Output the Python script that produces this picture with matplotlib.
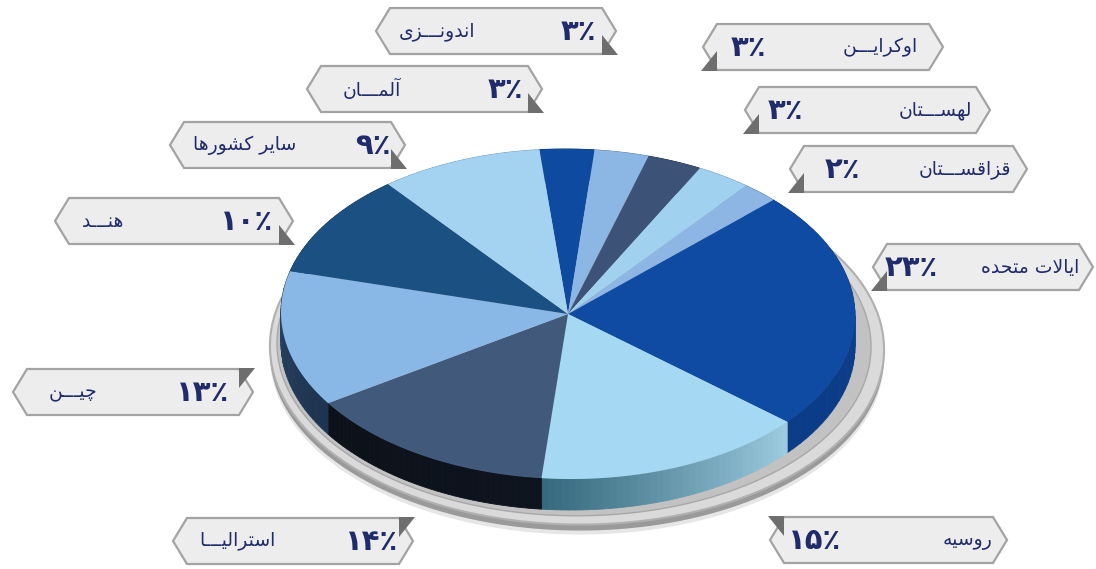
import numpy as np
import matplotlib
matplotlib.use("Agg")
import matplotlib.pyplot as plt
import matplotlib.transforms as mtransforms
from matplotlib.colors import to_rgb
from matplotlib.path import Path
from matplotlib.patches import Polygon, Circle

# clockwise from the top of the pie
countries = ['اندونـــزی', 'آلمـــان', 'اوکرایـــن', 'لهســـتان', 'قزاقســـتان',
             'ایالات متحده', 'روسیه', 'استرالیـــا', 'چیـــن', 'هنـــد', 'سایر کشورها']
shares = [3, 3, 3, 3, 2, 23, 15, 14, 13, 10, 9]

top_colors = ['#0e4aa0', '#8cb6e4', '#3d5277', '#a0d2f0', '#8db6e4', '#0f4ba3',
              '#a4d8f3', '#415a7c', '#8ab8e6', '#1b5083', '#a3d3f1']
# side wall colour at the start and at the end of each slice
side_colors = [('#0a3373',) * 2, ('#5f84ad',) * 2, ('#263650',) * 2, ('#6f9fbf',) * 2,
               ('#5f86b0',) * 2, ('#0b3c86', '#0d3f8c'), ('#36697d', '#9ccbe0'),
               ('#0c1119', '#0e141e'), ('#2b4767', '#1d3350'), ('#103455',) * 2,
               ('#6fa0bf',) * 2]

# label boxes: left, right, centre y, x of percent, x of name, folded corner
boxes = [(376, 616, 31, 578, 437, 'br'), (307, 542, 89, 505, 372, 'br'),
         (703, 943, 47, 748, 880, 'bl'), (745, 990, 110, 785, 935, 'bl'),
         (790, 1027, 169, 842, 965, 'bl'), (873, 1093, 267, 911, 1030, 'bl'),
         (770, 1007, 540, 815, 967, 'tl'), (173, 413, 541, 372, 237, 'tr'),
         (13, 253, 392, 203, 73, 'tr'), (55, 293, 221, 247, 103, 'br'),
         (170, 405, 145, 373, 245, 'br')]

NAVY = '#1f2b6b'
FA_DIGITS = str.maketrans('0123456789', '۰۱۲۳۴۵۶۷۸۹')

# --- minimal Persian shaping (matplotlib draws glyphs one by one, left to right)
FORMS = {
    'ا': (0xFE8D, 0xFE8E), 'آ': (0xFE81, 0xFE82), 'د': (0xFEA9, 0xFEAA),
    'ر': (0xFEAD, 0xFEAE), 'ز': (0xFEAF, 0xFEB0), 'و': (0xFEED, 0xFEEE),
    'ت': (0xFE95, 0xFE96, 0xFE97, 0xFE98), 'ح': (0xFEA1, 0xFEA2, 0xFEA3, 0xFEA4),
    'س': (0xFEB1, 0xFEB2, 0xFEB3, 0xFEB4), 'ش': (0xFEB5, 0xFEB6, 0xFEB7, 0xFEB8),
    'ق': (0xFED5, 0xFED6, 0xFED7, 0xFED8), 'ل': (0xFEDD, 0xFEDE, 0xFEDF, 0xFEE0),
    'م': (0xFEE1, 0xFEE2, 0xFEE3, 0xFEE4), 'ن': (0xFEE5, 0xFEE6, 0xFEE7, 0xFEE8),
    'ه': (0xFEE9, 0xFEEA, 0xFEEB, 0xFEEC), 'ک': (0xFB8E, 0xFB8F, 0xFB90, 0xFB91),
    'ی': (0xFBFC, 0xFBFD, 0xFBFE, 0xFBFF), 'چ': (0xFB7A, 0xFB7B, 0xFB7C, 0xFB7D),
}
LAM_ALEF = {'ا': (0xFEFB, 0xFEFC), 'آ': (0xFEF5, 0xFEF6)}
TATWEEL = 'ـ'


def joins_next(c):
    return c == TATWEEL or len(FORMS.get(c, ())) == 4


def joins_prev(c):
    return c == TATWEEL or c in FORMS


def rtl(text):
    out, i = [], 0
    while i < len(text):
        c = text[i]
        prev = text[i - 1] if i else ''
        nxt = text[i + 1] if i + 1 < len(text) else ''
        linked = joins_next(prev) and joins_prev(c)
        if c == 'ل' and nxt in LAM_ALEF:
            out.append(chr(LAM_ALEF[nxt][int(linked)]))
            i += 2
            continue
        if c in FORMS:
            ahead = joins_next(c) and joins_prev(nxt)
            idx = {(False, False): 0, (True, False): 1,
                   (False, True): 2, (True, True): 3}[(linked, ahead)]
            out.append(chr(FORMS[c][idx]))
        else:
            out.append(c)
        i += 1
    return ''.join(reversed(out))


# --- pie seen from above at an angle: unit disc -> ellipse in pixel space
CX, CY, RX, RY, TILT, BETA = 568, 314, 287, 165, np.radians(0.5), 0.0
DEPTH = 31


class Tilted(mtransforms.Transform):
    input_dims = output_dims = 2

    def __init__(self, drop=0, shift=0):
        super().__init__()
        self.drop = drop
        self.shift = shift

    def transform_non_affine(self, values):
        v = np.asarray(values, float)
        single = v.ndim == 1
        v = v.reshape(-1, 2)
        x, y = v[:, 0], v[:, 1]
        w = 1 + BETA * x
        px = (x + BETA) / w
        py = y * np.sqrt(1 - BETA ** 2) / w
        u, t = RX * px, -RY * py
        X = CX + u * np.cos(TILT) - t * np.sin(TILT) + self.shift
        Y = CY + u * np.sin(TILT) + t * np.cos(TILT) + self.drop
        out = np.column_stack([X, Y])
        return out[0] if single else out

    def transform_path_non_affine(self, path):
        pts = np.vstack([seg(np.linspace(0, 1, 30)) for seg, _ in path.iter_bezier()])
        return Path(self.transform_non_affine(pts))


fig = plt.figure(figsize=(10.96, 5.69), dpi=100)
ax = fig.add_axes([0, 0, 1, 1])

wedges, _ = ax.pie(shares, colors=top_colors, startangle=96, counterclock=False,
                   wedgeprops=dict(linewidth=0))
ax.set_xlim(0, 1096)
ax.set_ylim(569, 0)
ax.set_aspect('auto')
ax.axis('off')

top = Tilted()
for w in wedges:
    w.set_transform(top + ax.transData)
    w.set_zorder(4)

# platter under the pie
ax.add_patch(Circle((0, 0), 1.07, transform=Tilted(DEPTH + 13, 9) + ax.transData,
                    fc='#e6e6e6', ec='none', zorder=0.9))
ax.add_patch(Circle((0, 0), 1.07, transform=Tilted(DEPTH + 9, 9) + ax.transData,
                    fc='#9a9a9a', ec='none', zorder=1))
ax.add_patch(Circle((0, 0), 1.07, transform=Tilted(DEPTH + 3, 9) + ax.transData,
                    fc='#dadada', ec='#b0b0b0', lw=1.5, zorder=1.1))
ax.add_patch(Circle((0, 0), 1.035, transform=Tilted(DEPTH, 6) + ax.transData,
                    fc='#c2c2c2', ec='#a8a8a8', lw=1, zorder=1.2))

# pie side walls, split into strips so a slice can shade along its arc
bottom = Tilted(DEPTH)
for w, (c0, c1) in zip(wedges, side_colors):
    th = np.radians(np.linspace(w.theta1, w.theta2, 41))
    arc = np.column_stack([np.cos(th), np.sin(th)])
    up, dn = top.transform(arc), bottom.transform(arc)
    # theta runs counter-clockwise, colours were listed clockwise
    mix = np.linspace(1, 0, len(th) - 1)[:, None]
    cols = mix * np.array(to_rgb(c1)) + (1 - mix) * np.array(to_rgb(c0))
    cols = cols[::-1]
    for k in range(len(th) - 1):
        quad = [up[k], up[k + 1], dn[k + 1], dn[k]]
        ax.add_patch(Polygon(quad, closed=True, fc=cols[k], ec=cols[k], lw=0.6, zorder=2))

# label boxes
h, s = 46, 14
for name, v, (x0, x1, yc, xp, xn, fold) in zip(countries, shares, boxes):
    y0, y1 = yc - h / 2, yc + h / 2
    hexagon = [(x0, yc), (x0 + s, y0), (x1 - s, y0), (x1, yc), (x1 - s, y1), (x0 + s, y1)]
    ax.add_patch(Polygon(hexagon, closed=True, fc='#ededed', ec='#a3a3a3', lw=1.6, zorder=5))
    xe, xi = (x1 + 2, x1 - s) if fold[1] == 'r' else (x0 - 2, x0 + s)
    ye, ym = (y1 + 1, yc + 4) if fold[0] == 'b' else (y0 - 1, yc - 4)
    ax.add_patch(Polygon([(xi, ym), (xe, ye), (xi, ye)], closed=True,
                         fc='#6e6e6e', ec='none', zorder=6))
    ax.text(xp, yc + 1, str(v).translate(FA_DIGITS) + '٪', ha='center', va='center',
            fontsize=21, fontweight='bold', color=NAVY, family='DejaVu Sans', zorder=7)
    ax.text(xn, yc, rtl(name), ha='center', va='center', fontsize=13.5,
            color=NAVY, family='DejaVu Sans', zorder=7)

fig.savefig('out.png', dpi=100)
